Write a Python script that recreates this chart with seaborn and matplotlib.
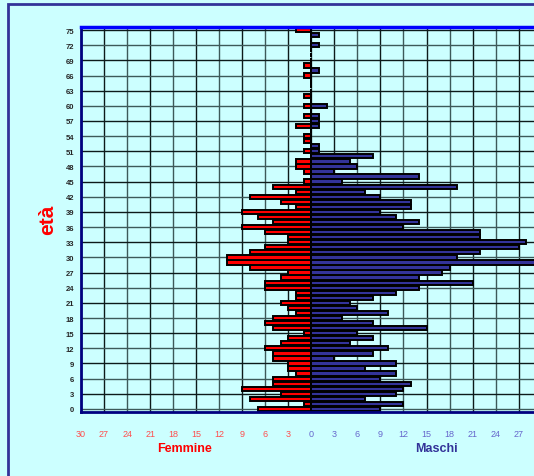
import pandas as pd
import matplotlib
matplotlib.use("Agg")
import matplotlib.pyplot as plt
from matplotlib.patches import Rectangle
import seaborn as sns

# Age pyramid data (ages 0..75)
ages = list(range(76))
femmine = [7, 1, 8, 4, 9, 5, 5, 2, 3, 3,
           5, 5, 6, 4, 3, 1, 5, 6, 5, 2,
           3, 4, 2, 2, 6, 6, 4, 3, 8, 11,
           11, 8, 6, 3, 3, 6, 9, 5, 7, 9,
           2, 4, 8, 2, 5, 1, 0, 1, 2, 2,
           0, 1, 0, 1, 1, 0, 2, 0, 1, 0,
           1, 0, 1, 0, 0, 0, 1, 0, 1, 0,
           0, 0, 0, 0, 0, 2]
maschi = [9, 12, 7, 11, 12, 13, 9, 11, 7, 11,
          3, 8, 10, 5, 8, 6, 15, 8, 4, 10,
          6, 5, 8, 11, 14, 21, 14, 17, 18, 30,
          19, 22, 27, 28, 22, 22, 12, 14, 11, 9,
          13, 13, 9, 7, 19, 4, 14, 3, 6, 5,
          8, 1, 1, 0, 0, 0, 1, 1, 1, 0,
          2, 0, 0, 0, 0, 0, 0, 1, 0, 0,
          0, 0, 1, 0, 1, 0]
x_ticks = list(range(-30, 28, 3))
y_ticks = list(range(0, 76, 3))

df = pd.DataFrame({'eta': ages,
                   'Femmine': [-v for v in femmine],
                   'Maschi': maschi})

sns.set_style("white")
plt.rcParams['font.family'] = ['Liberation Sans', 'DejaVu Sans']

bg = '#ccffff'
fig = plt.figure(figsize=(5.34, 4.77), dpi=100, facecolor=bg)
ax = fig.add_axes([81 / 534, 64 / 477, 1 - 81 / 534, (413 - 28) / 477])
ax.set_facecolor(bg)

# grid under the bars (alternating dark / grey lines like the original)
for i, xv in enumerate(x_ticks):
    ax.axvline(xv, color='#0d1a1a' if i % 2 else '#3d5959', lw=1, zorder=0)
for i, yv in enumerate(y_ticks):
    ax.axhline(yv, color='#0d1a1a' if i % 2 else '#3d5959', lw=1, zorder=0)

sns.barplot(data=df, x='Femmine', y='eta', orient='y', native_scale=True,
            color='#ff0000', edgecolor='black', linewidth=1.4, width=0.85,
            saturation=1, ax=ax, zorder=2)
sns.barplot(data=df, x='Maschi', y='eta', orient='y', native_scale=True,
            color='#333399', edgecolor='black', linewidth=1.4, width=0.85,
            saturation=1, ax=ax, zorder=2)

ax.set_xlim(-30, 29)
ax.set_ylim(-0.6, 75.6)
ax.set_xticks(x_ticks)
ax.set_xticklabels([str(abs(v)) for v in x_ticks], fontsize=6.5)
for lab, v in zip(ax.get_xticklabels(), x_ticks):
    lab.set_color('#ff4d4d' if v < 0 else '#6666cc')
ax.set_yticks(y_ticks)
ax.set_yticklabels([str(v) for v in y_ticks], fontsize=5.5, fontweight='bold')
ax.tick_params(axis='both', length=3, width=1, color='#333366', pad=2)
ax.tick_params(axis='x', pad=9)
ax.set_xlabel('')
ax.set_ylabel('')

for side in ['left', 'bottom']:
    ax.spines[side].set_color('#000080')
    ax.spines[side].set_linewidth(2)
ax.spines['top'].set_color('#0000ff')
ax.spines['top'].set_linewidth(2.5)
ax.spines['right'].set_visible(False)

fig.text(184 / 534, 1 - 449 / 477, 'Femmine', color='#ff0000', fontsize=9,
         fontweight='bold', ha='center', va='center')
fig.text(436 / 534, 1 - 449 / 477, 'Maschi', color='#333399', fontsize=9,
         fontweight='bold', ha='center', va='center')
fig.text(48 / 534, 1 - 220 / 477, 'età', color='#ff0000', fontsize=15,
         fontweight='bold', rotation=90, ha='center', va='center')

# outer frame of the chart area
fig.patches.append(Rectangle((8 / 534, -0.1), 1.2, 1.1 - 5 / 477,
                             transform=fig.transFigure, fill=False,
                             edgecolor='#333399', lw=2))

fig.savefig('out.png', dpi=100, facecolor=bg)
